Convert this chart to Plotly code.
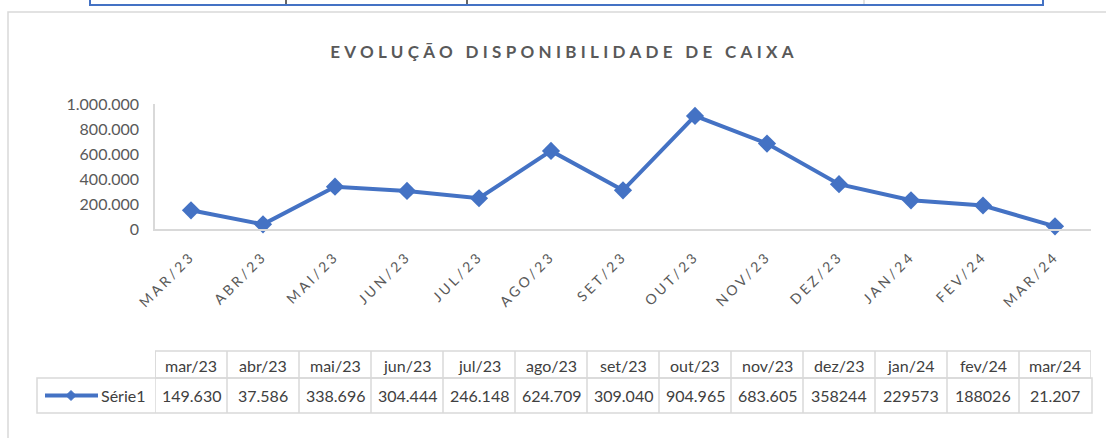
import plotly.graph_objects as go

# ---- data ----
categories = ["mar/23", "abr/23", "mai/23", "jun/23", "jul/23", "ago/23", "set/23",
              "out/23", "nov/23", "dez/23", "jan/24", "fev/24", "mar/24"]
values = [149630, 37586, 338696, 304444, 246148, 624709, 309040,
          904965, 683605, 358244, 229573, 188026, 21207]
table_labels = ["149.630", "37.586", "338.696", "304.444", "246.148", "624.709", "309.040",
                "904.965", "683.605", "358244", "229573", "188026", "21.207"]
series_name = "Série1"
title_text = "EVOLUÇÃO DISPONIBILIDADE DE CAIXA"

# ---- layout constants (pixels) ----
W, H = 1106, 438
ML, MR, MT, MB = 155, 15, 104, 209
PW, PH = W - ML - MR, H - MT - MB
BLUE = "#4472C4"
GRID = "#d9d9d9"
TXT = "#404040"
FONT = "Lato, 'Open Sans', sans-serif"


def px(x):
    return (x - ML) / PW


def py(y):
    return (H - MB - y) / PH


fig = go.Figure()
fig.add_trace(go.Scatter(
    x=categories, y=values, mode="lines+markers", name=series_name,
    line=dict(color=BLUE, width=4),
    marker=dict(symbol="diamond", size=14, color=BLUE),
    cliponaxis=False, showlegend=False,
))

shapes = []
annotations = []

# chart border
shapes.append(dict(type="rect", xref="paper", yref="paper",
                   x0=px(8), x1=px(1125), y0=py(12), y1=py(450),
                   line=dict(color=GRID, width=1.5), fillcolor="rgba(0,0,0,0)", layer="below"))
# cut-off table strip at the very top
shapes.append(dict(type="rect", xref="paper", yref="paper",
                   x0=px(90), x1=px(1043), y0=py(-10), y1=py(5),
                   line=dict(color=BLUE, width=2), fillcolor="white"))
for xv, col in [(286, "#333333"), (467, "#333333"), (864, GRID)]:
    shapes.append(dict(type="line", xref="paper", yref="paper",
                       x0=px(xv), x1=px(xv), y0=py(-10), y1=py(4),
                       line=dict(color=col, width=1.5)))

# data table below the chart
y_head_top, y_head_bot, y_row_bot = 351, 378, 413
n = len(categories)
shapes.append(dict(type="rect", xref="x", yref="paper", x0=-0.5, x1=n - 0.5,
                   y0=py(y_head_top), y1=py(y_head_bot), line=dict(color=GRID, width=1.5)))
shapes.append(dict(type="rect", xref="paper", yref="paper", x0=px(37), x1=px(ML + PW + 1),
                   y0=py(y_head_bot), y1=py(y_row_bot), line=dict(color=GRID, width=1.5)))
for i in range(n):
    shapes.append(dict(type="line", xref="x", yref="paper", x0=i - 0.5, x1=i - 0.5,
                       y0=py(y_head_top), y1=py(y_row_bot), line=dict(color=GRID, width=1.5)))
hy = (y_head_top + y_head_bot) / 2 + 1
ly = (y_head_bot + y_row_bot) / 2
for cat, lab in zip(categories, table_labels):
    annotations.append(dict(x=cat, xref="x", y=py(hy), yref="paper", yanchor="middle",
                            xanchor="center", text=cat, showarrow=False,
                            font=dict(family=FONT, size=16, color=TXT)))
    annotations.append(dict(x=cat, xref="x", y=py(ly), yref="paper", yanchor="middle",
                            xanchor="center", text=lab, showarrow=False,
                            font=dict(family=FONT, size=16, color=TXT)))
# legend key in table
shapes.append(dict(type="line", xref="paper", yref="paper", x0=px(45), x1=px(98),
                   y0=py(ly), y1=py(ly), line=dict(color=BLUE, width=4)))
cx, r = 71, 5
shapes.append(dict(type="path", xref="paper", yref="paper",
                   path=f"M {px(cx - r)} {py(ly)} L {px(cx)} {py(ly - r)} L {px(cx + r)} {py(ly)} L {px(cx)} {py(ly + r)} Z",
                   fillcolor=BLUE, line=dict(color=BLUE, width=1)))
annotations.append(dict(x=px(99), xref="paper", y=py(ly), yref="paper", xanchor="left",
                        yanchor="middle", text=series_name, showarrow=False,
                        font=dict(family=FONT, size=16, color=TXT)))

fig.update_layout(
    width=W, height=H,
    margin=dict(l=ML, r=MR, t=MT, b=MB),
    paper_bgcolor="white", plot_bgcolor="white",
    separators=",.",
    title=dict(text=f'<span style="letter-spacing:4.3px">{title_text}</span>',
               x=564 / W, xanchor="center", y=1 - 52 / H, yanchor="middle",
               font=dict(family=FONT, size=17, color="#595959", weight="bold")),
    xaxis=dict(type="category", categoryorder="array", categoryarray=categories,
               range=[-0.5, n - 0.5],
               tickmode="array", tickvals=categories,
               ticktext=[f'<span style="letter-spacing:3px">{c.upper()}</span>' for c in categories],
               tickangle=-45, ticks="", ticklabelstandoff=12,
               tickfont=dict(family=FONT, size=14, color="#595959"),
               showline=True, linecolor=GRID, linewidth=1.5, showgrid=False, zeroline=False),
    yaxis=dict(range=[0, 1000000], dtick=200000, tickformat=",d",
               ticks="", ticklabelstandoff=11,
               tickfont=dict(family=FONT, size=16, color="#595959"),
               showline=True, linecolor=GRID, linewidth=1.5, showgrid=False, zeroline=False),
    shapes=shapes, annotations=annotations,
)

fig.write_html("out.html", config={"displayModeBar": False},
               post_script="document.body.style.margin='0';")
